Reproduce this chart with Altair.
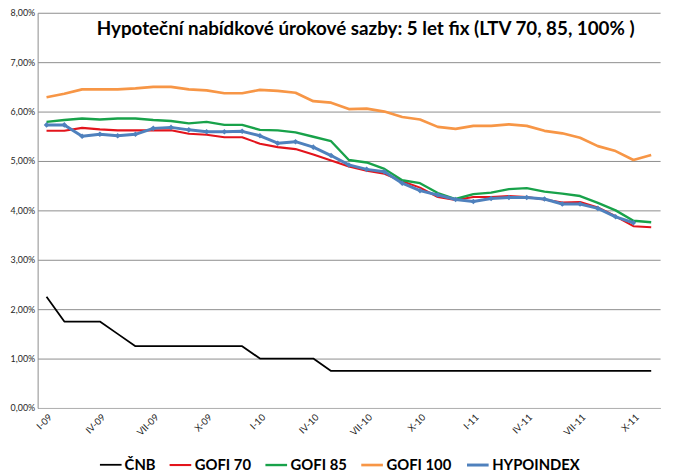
import altair as alt
import pandas as pd

months = ["I", "II", "III", "IV", "V", "VI", "VII", "VIII", "IX", "X", "XI", "XII"]
labels = [f"{m}-{y}" for y in ["09", "10", "11"] for m in months][:35]
tick_labels = labels[::3]

series = ["ČNB", "GOFI 70", "GOFI 85", "GOFI 100", "HYPOINDEX"]
colors = ["#000000", "#e3141c", "#18a24a", "#f79646", "#4f81bd"]
widths = [1.8, 3, 3, 3, 3]

cnb = [2.25, 1.75, 1.75, 1.75, 1.50, 1.25, 1.25, 1.25, 1.25, 1.25, 1.25, 1.25,
       1.00, 1.00, 1.00, 1.00, 0.75, 0.75, 0.75, 0.75, 0.75, 0.75, 0.75, 0.75,
       0.75, 0.75, 0.75, 0.75, 0.75, 0.75, 0.75, 0.75, 0.75, 0.75, 0.75]
gofi70 = [5.61, 5.61, 5.67, 5.64, 5.62, 5.62, 5.62, 5.62, 5.55, 5.53, 5.48, 5.48,
          5.35, 5.28, 5.24, 5.13, 5.01, 4.89, 4.80, 4.74, 4.59, 4.46, 4.27, 4.21,
          4.27, 4.27, 4.29, 4.27, 4.22, 4.16, 4.17, 4.06, 3.88, 3.68, 3.66]
gofi85 = [5.79, 5.83, 5.86, 5.84, 5.86, 5.86, 5.83, 5.81, 5.76, 5.79, 5.73, 5.73,
          5.63, 5.62, 5.58, 5.49, 5.40, 5.02, 4.97, 4.84, 4.61, 4.55, 4.35, 4.23,
          4.33, 4.36, 4.43, 4.45, 4.38, 4.34, 4.29, 4.15, 4.00, 3.79, 3.76]
gofi100 = [6.29, 6.36, 6.45, 6.45, 6.45, 6.47, 6.50, 6.50, 6.45, 6.43, 6.37, 6.37,
           6.44, 6.42, 6.38, 6.21, 6.18, 6.05, 6.06, 6.00, 5.89, 5.84, 5.69, 5.65,
           5.71, 5.71, 5.74, 5.71, 5.61, 5.56, 5.47, 5.30, 5.20, 5.02, 5.12]
hypoindex = [5.73, 5.73, 5.50, 5.54, 5.51, 5.54, 5.66, 5.68, 5.63, 5.59, 5.59, 5.60,
             5.51, 5.36, 5.39, 5.28, 5.11, 4.92, 4.83, 4.78, 4.55, 4.40, 4.31, 4.22,
             4.18, 4.24, 4.26, 4.26, 4.23, 4.13, 4.13, 4.04, 3.87, 3.75]

rows = []
for name, vals in zip(series, [cnb, gofi70, gofi85, gofi100, hypoindex]):
    for i, v in enumerate(vals):
        rows.append({"month": labels[i], "series": name, "value": v / 100})
df = pd.DataFrame(rows)

FONT = "Lato"

x_enc = alt.X(
    "month:O",
    sort=labels,
    scale=alt.Scale(type="point", padding=0.5),
    axis=alt.Axis(
        values=tick_labels, labelAngle=-45, title=None, grid=False, ticks=False,
        domainColor="#b4b4b4", domainWidth=1, labelFont=FONT, labelFontSize=9.5,
        labelColor="#262626", labelPadding=4,
    ),
)
y_enc = alt.Y(
    "value:Q",
    scale=alt.Scale(domain=[0, 0.08], nice=False, zero=True),
    axis=alt.Axis(
        values=[0, 0.01, 0.02, 0.03, 0.04, 0.05, 0.06, 0.07, 0.08],
        labelExpr="replace(format(datum.value, '.2%'), '.', ',')",
        title=None, ticks=False, grid=True, gridColor="#8c8c8c", gridWidth=1,
        domainColor="#8c8c8c", labelFont=FONT, labelFontSize=9,
        labelColor="#262626", labelPadding=3,
    ),
)

lines = alt.Chart(df).mark_line(strokeJoin="round").encode(
    x=x_enc,
    y=y_enc,
    color=alt.Color(
        "series:N",
        sort=series,
        scale=alt.Scale(domain=series, range=colors),
        legend=alt.Legend(
            orient="none", legendX=62, legendY=445, direction="horizontal",
            title=None, symbolType="stroke", symbolStrokeWidth=3, symbolSize=480,
            labelFont=FONT, labelFontWeight="bold", labelFontSize=15,
            labelColor="#000000", labelOffset=2, columnPadding=9,
        ),
    ),
    strokeWidth=alt.StrokeWidth(
        "series:N", scale=alt.Scale(domain=series, range=widths), legend=None
    ),
    detail="series:N",
)

points = alt.Chart(df[df["series"] == "HYPOINDEX"]).mark_point(
    shape="diamond", filled=True, size=32, opacity=1, color="#4f81bd"
).encode(x=x_enc, y=y_enc)

chart = alt.layer(lines, points).properties(
    width=630,
    height=400,
    autosize=alt.AutoSizeParams(type="none"),
    padding={"left": 30, "top": 2, "right": 8, "bottom": 64},
    title=alt.Title(
        "Hypoteční nabídkové úrokové sazby: 5 let fix (LTV 70, 85, 100% )",
        font=FONT, fontSize=19, fontWeight="bold", color="#000000",
        anchor="middle", frame="group", offset=-30, dx=17,
    ),
).configure_view(stroke=None)

chart.save("out.html", embed_options={"renderer": "svg", "actions": False})
